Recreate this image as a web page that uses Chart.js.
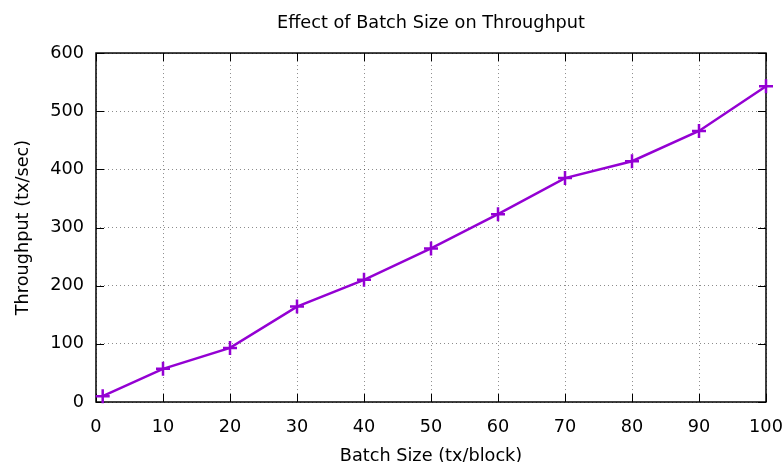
<!DOCTYPE html>
<html>
<head>
<meta charset="utf-8">
<script src="https://cdn.jsdelivr.net/npm/chart.js@4.4.0/dist/chart.umd.min.js"></script>
<style>
  html, body { margin: 0; padding: 0; background: #fff; }
</style>
</head>
<body>
<canvas id="throughputChart" width="784" height="462"></canvas>
<script>
const batchSizes = [1, 10, 20, 30, 40, 50, 60, 70, 80, 90, 100];
const throughput = [10, 57, 93, 164, 210, 264, 323, 385, 414, 466, 543];
const xTicks = [0, 10, 20, 30, 40, 50, 60, 70, 80, 90, 100];
const yTicks = [0, 100, 200, 300, 400, 500, 600];

const fontFamily = '"DejaVu Sans", sans-serif';
const fontSize = 17.7;

// gnuplot-like frame with inward ticks on all four sides
const framePlugin = {
    id: 'frame',
    beforeDatasetsDraw(chart) {
        const {ctx, chartArea: a, scales} = chart;
        const len = 8;
        ctx.save();
        ctx.strokeStyle = '#000';
        ctx.lineWidth = 1;
        ctx.beginPath();
        scales.x.ticks.forEach(t => {
            const px = Math.round(scales.x.getPixelForValue(t.value)) + 0.5;
            ctx.moveTo(px, a.bottom); ctx.lineTo(px, a.bottom - len);
            ctx.moveTo(px, a.top); ctx.lineTo(px, a.top + len);
        });
        scales.y.ticks.forEach(t => {
            const py = Math.round(scales.y.getPixelForValue(t.value)) + 0.5;
            ctx.moveTo(a.left, py); ctx.lineTo(a.left + len, py);
            ctx.moveTo(a.right, py); ctx.lineTo(a.right - len, py);
        });
        ctx.stroke();
        ctx.lineWidth = 1.5;
        ctx.strokeRect(a.left, a.top, a.right - a.left, a.bottom - a.top);
        ctx.restore();
    }
};

new Chart(document.getElementById('throughputChart'), {
    type: 'line',
    data: {
        datasets: [{
            label: 'Throughput',
            data: batchSizes.map((x, i) => ({x: x, y: throughput[i]})),
            borderColor: '#9400D3',
            backgroundColor: '#9400D3',
            borderWidth: 2.5,
            pointStyle: 'cross',
            pointRadius: 7,
            pointBorderWidth: 2.5,
            tension: 0,
            clip: false
        }]
    },
    options: {
        responsive: false,
        animation: false,
        layout: { padding: 0 },
        plugins: {
            legend: { display: false },
            tooltip: { enabled: false },
            title: {
                display: true,
                fullSize: false, // centre over the plot area
                text: 'Effect of Batch Size on Throughput',
                color: '#000',
                font: { family: fontFamily, size: fontSize, weight: 'normal' },
                padding: { top: 13, bottom: 18.8 }
            }
        },
        scales: {
            x: {
                type: 'linear',
                min: 0,
                max: 100,
                afterBuildTicks: s => { s.ticks = xTicks.map(v => ({value: v})); },
                afterFit: s => { s.height = 60; s.paddingLeft = 0; s.paddingRight = 18; },
                grid: { color: 'rgba(0,0,0,0.45)', lineWidth: 1, drawTicks: false },
                border: { display: false, dash: [1, 3] },
                ticks: {
                    color: '#000',
                    padding: 15,
                    maxRotation: 0,
                    font: { family: fontFamily, size: fontSize }
                },
                title: {
                    display: true,
                    text: 'Batch Size (tx/block)',
                    color: '#000',
                    font: { family: fontFamily, size: fontSize, lineHeight: 0.6 },
                    padding: { top: 0, bottom: 0 }
                }
            },
            y: {
                type: 'linear',
                min: 0,
                max: 600,
                afterBuildTicks: s => { s.ticks = yTicks.map(v => ({value: v})); },
                afterFit: s => { s.width = 96; },
                grid: { color: 'rgba(0,0,0,0.45)', lineWidth: 1, drawTicks: false },
                border: { display: false, dash: [1, 3] },
                ticks: {
                    color: '#000',
                    padding: 12,
                    font: { family: fontFamily, size: fontSize }
                },
                title: {
                    display: true,
                    text: 'Throughput (tx/sec)',
                    color: '#000',
                    font: { family: fontFamily, size: fontSize },
                    padding: { top: 13, bottom: 0 }
                }
            }
        }
    },
    plugins: [framePlugin]
});
</script>
</body>
</html>
